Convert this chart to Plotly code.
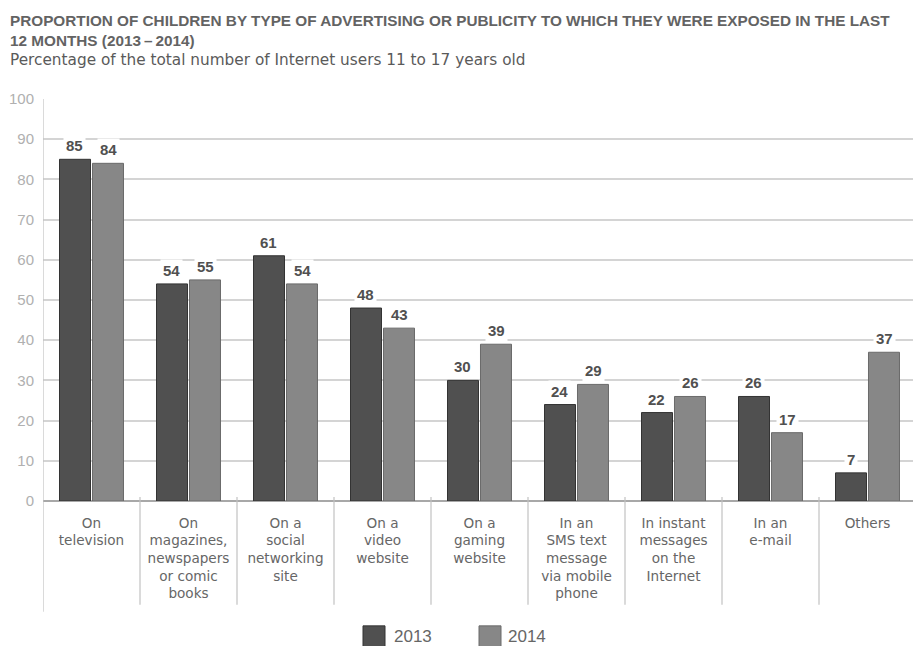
import plotly.graph_objects as go

# Survey data: share of internet users aged 11-17 exposed to each advertising channel
categories = [
    "On<br>television",
    "On<br>magazines,<br>newspapers<br>or comic<br>books",
    "On a<br>social<br>networking<br>site",
    "On a<br>video<br>website",
    "On a<br>gaming<br>website",
    "In an<br>SMS text<br>message<br>via mobile<br>phone",
    "In instant<br>messages<br>on the<br>Internet",
    "In an<br>e-mail",
    "Others",
]
years = ["2013", "2014"]
values_2013 = [85, 54, 61, 48, 30, 24, 22, 26, 7]
values_2014 = [84, 55, 54, 43, 39, 29, 26, 17, 37]
y_ticks = [0, 10, 20, 30, 40, 50, 60, 70, 80, 90, 100]

W, H = 913, 646
ML, MT, MB, MR = 43, 98.5, 145, 0
PLOT_W = W - ML - MR
PLOT_H = H - MT - MB

FILL = {"2013": "#505050", "2014": "#878787"}
EDGE = {"2013": "#333333", "2014": "#6a6a6a"}
TEXT = "#606060"


def px_x(px):
    return (px - ML) / PLOT_W


def px_y(py):
    return (H - MB - py) / PLOT_H


fig = go.Figure()
for year, vals in zip(years, [values_2013, values_2014]):
    fig.add_trace(go.Bar(
        x=categories, y=vals, name=year,
        marker=dict(color=FILL[year], line=dict(color=EDGE[year], width=1)),
        showlegend=False, hoverinfo="x+y",
    ))

annotations = []
# value labels sitting on white boxes above each bar
for shift, vals in zip([-17, 17], [values_2013, values_2014]):
    for cat, v in zip(categories, vals):
        annotations.append(dict(
            x=cat, y=v, xref="x", yref="y", text=str(v), showarrow=False,
            xshift=shift, yshift=2, yanchor="bottom",
            font=dict(family="Liberation Sans, Arial, sans-serif", size=15, color="#505050", weight="bold"),
            bgcolor="white", borderpad=2,
        ))

# title and subtitle
annotations.append(dict(
    x=px_x(8), y=px_y(9), xref="paper", yref="paper", xanchor="left", yanchor="top",
    align="left", showarrow=False,
    text="PROPORTION OF CHILDREN BY TYPE OF ADVERTISING OR PUBLICITY TO WHICH THEY WERE EXPOSED IN THE LAST<br>12 MONTHS (2013\u2009\u2013\u20092014)",
    font=dict(family="Liberation Sans, Arial, sans-serif", size=15.3, color="#636363", weight="bold"),
))
annotations.append(dict(
    x=px_x(8), y=px_y(48), xref="paper", yref="paper", xanchor="left", yanchor="top",
    align="left", showarrow=False,
    text="Percentage of the total number of Internet users 11 to 17 years old",
    font=dict(family="DejaVu Sans, sans-serif", size=15.3, color="#5a5a5a"),
))

shapes = []
# category separators below the baseline
for i in range(len(categories) - 1):
    shapes.append(dict(type="line", xref="x", yref="paper",
                       x0=i + 0.5, x1=i + 0.5, y0=px_y(497), y1=px_y(605),
                       line=dict(color="#c2c2c2", width=1.2)))
# left axis line extending below the baseline
shapes.append(dict(type="line", xref="x", yref="paper",
                   x0=-0.5, x1=-0.5, y0=1, y1=px_y(612),
                   line=dict(color="#c2c2c2", width=1.2)))

# legend swatches and labels
for year, sx, tx in [("2013", 363, 392), ("2014", 479, 506)]:
    shapes.append(dict(type="rect", xref="paper", yref="paper",
                       x0=px_x(sx), x1=px_x(sx + 22), y0=px_y(626), y1=px_y(650),
                       fillcolor=FILL[year], line=dict(color=EDGE[year], width=1)))
    annotations.append(dict(
        x=px_x(tx), y=px_y(637), xref="paper", yref="paper", xanchor="left", yanchor="middle",
        showarrow=False, text=year,
        font=dict(family="Liberation Sans, Arial, sans-serif", size=17, color="#666666"),
    ))

fig.update_layout(
    width=W, height=H,
    margin=dict(l=ML, r=MR, t=MT, b=MB, pad=0),
    paper_bgcolor="white", plot_bgcolor="white",
    barmode="group", bargap=0.32, bargroupgap=0.06,
    annotations=annotations, shapes=shapes,
    xaxis=dict(
        range=[-0.5, 8.5 - 3 / 97], showgrid=False, showline=False, ticks="",
        tickfont=dict(family="DejaVu Sans, sans-serif", size=13.6, color="#666666"),
        ticklabelstandoff=12, fixedrange=True,
    ),
    yaxis=dict(
        range=[0, 100], tickvals=y_ticks, showline=False, ticks="",
        gridcolor="#d4d4d4", gridwidth=1.5,
        zeroline=True, zerolinecolor="#a8a8a8", zerolinewidth=1.5,
        tickfont=dict(family="Liberation Sans, Arial, sans-serif", size=15, color="#b0b0b0"),
        ticklabelstandoff=8, fixedrange=True,
    ),
    font=dict(family="Liberation Sans, Arial, sans-serif", color=TEXT),
)

fig.write_html("out.html", config={"displayModeBar": False})
